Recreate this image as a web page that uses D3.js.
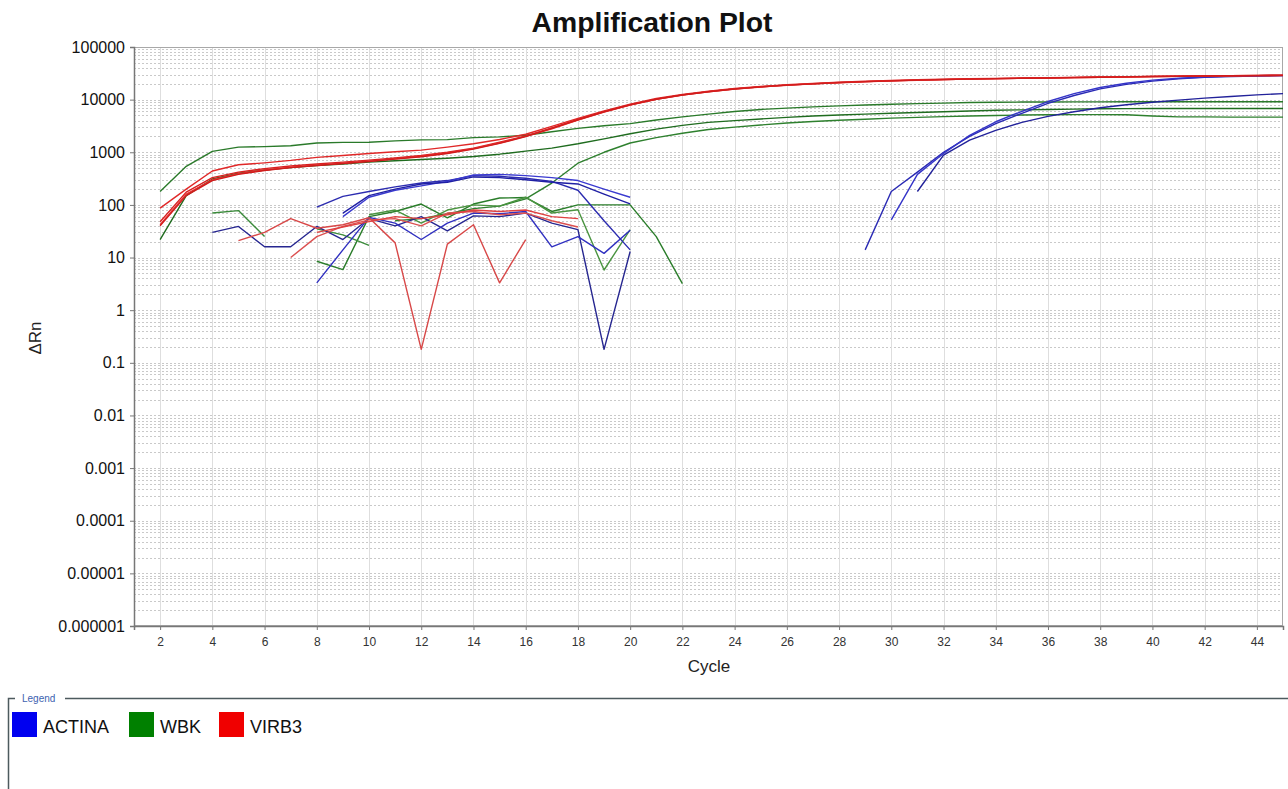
<!DOCTYPE html>
<html>
<head>
<meta charset="utf-8">
<script src="https://cdn.jsdelivr.net/npm/d3@7"></script>
<style>
    body { margin: 0; background: #fff; }
    svg { display: block; font-family: "Liberation Sans", Arial, sans-serif; }
</style>
</head>
<body>
<svg id="chart" width="1288" height="789"></svg>
<script>
// cycle ticks and decade labels
const cycleTicks = [2, 4, 6, 8, 10, 12, 14, 16, 18, 20, 22, 24, 26, 28, 30, 32, 34, 36, 38, 40, 42, 44];
const decadeTicks = [1e5, 1e4, 1e3, 100, 10, 1, 0.1, 0.01, 0.001, 0.0001, 0.00001, 0.000001];
const decadeLabels = ["100000", "10000", "1000", "100", "10", "1", "0.1", "0.01", "0.001", "0.0001", "0.00001", "0.000001"];

const targets = ["ACTINA", "WBK", "VIRB3"];
const targetColors = ["#0000f0", "#008000", "#f00000"];

// ACTINA wells: first cycle and delta Rn per cycle
const actinaStart = [29, 30, 31, 4, 8, 8, 9, 9];
const actinaValues = [
    [14, 180, 420, 1000, 2000, 3500, 5500, 8500, 12000, 16000, 19500, 22500, 25000, 26500, 27500, 28200, 28600],
    [52, 380, 950, 2100, 3800, 6000, 9200, 13000, 17000, 20500, 23500, 25500, 27000, 28000, 28500, 28800],
    [180, 880, 1700, 2600, 3700, 4800, 5900, 7000, 8000, 8900, 9800, 10700, 11500, 12300, 13000],
    [30, 39, 16, 16, 39, 22, 55, 40, 60, 32, 62, 60, 70, 45, 34, 0.18, 13],
    [3.3, 14, 58, 45, 22, 45, 70, 68, 75, 16, 25, 12, 33],
    [91, 145, 180, 220, 260, 290, 360, 350, 320, 280, 190, 50, 14],
    [60, 140, 190, 230, 280, 370, 380, 360, 330, 290, 200, 140],
    [70, 150, 200, 250, 270, 340, 330, 300, 270, 250, 160, 105]
];

// WBK wells
const wbkStart = [2, 2, 11, 4, 8, 8, 10];
const wbkValues = [
    [180, 540, 1040, 1250, 1280, 1330, 1500, 1540, 1550, 1650, 1720, 1740, 1900, 1960, 2100, 2450, 2850, 3200, 3500, 4100, 4700, 5300, 5950, 6500, 6900, 7300, 7600, 7900, 8150, 8400, 8600, 8800, 8900, 9000, 9000, 9050, 9050, 9100, 9100, 9100, 9100, 9100, 9100, 9100],
    [22, 150, 310, 400, 460, 510, 560, 600, 650, 690, 730, 770, 830, 920, 1050, 1200, 1450, 1800, 2250, 2750, 3250, 3700, 4000, 4300, 4600, 4900, 5100, 5300, 5500, 5700, 5900, 6100, 6300, 6400, 6500, 6600, 6700, 6750, 6800, 6800, 6800, 6800, 6800, 6800],
    [50, 55, 68, 85, 95, 130, 260, 620, 1000, 1500, 1900, 2300, 2700, 3000, 3300, 3600, 3850, 4050, 4250, 4450, 4600, 4750, 4900, 5000, 5100, 5150, 5200, 5200, 5150, 4900, 4700, 4700, 4650, 4650, 4650],
    [70, 78, 25],
    [8.5, 5.9, 60, 75, 104, 57, 104, 135, 138, 75, 100, 100, 100, 25, 3.2],
    [35, 27, 17],
    [65, 80, 45, 80, 100, 95, 140, 70, 81, 5.8, 34]
];

// VIRB3 wells
const virb3Start = [2, 2, 2, 2, 5, 7, 8];
const virb3Values = [
    [87, 200, 440, 580, 630, 700, 800, 870, 950, 1020, 1100, 1250, 1450, 1750, 2200, 3100, 4400, 6100, 8200, 10500, 12600, 14500, 16300, 17800, 19200, 20300, 21400, 22300, 23100, 23800, 24400, 24900, 25300, 25700, 26100, 26500, 26900, 27300, 27700, 28000, 28300, 28600, 28900, 29100],
    [48, 175, 330, 420, 490, 550, 600, 650, 710, 780, 870, 1000, 1200, 1550, 2050, 2900, 4200, 5900, 8000, 10200, 12300, 14200, 16000, 17500, 18900, 20000, 21100, 22000, 22800, 23500, 24100, 24600, 25100, 25500, 25900, 26300, 26700, 27100, 27500, 27800, 28100, 28400, 28700, 28900],
    [42, 160, 300, 390, 460, 520, 570, 620, 680, 750, 840, 970, 1170, 1500, 2000, 2800, 4100, 5800, 7900, 10100, 12200, 14100, 15900, 17400, 18800, 19900, 21000, 21900, 22700, 23400, 24000, 24500, 25000, 25400, 25800, 26200, 26600, 27000, 27400, 27700, 28000, 28300, 28600, 28800],
    [40, 150, 290, 380, 450, 510, 560, 610, 670, 740, 820, 950, 1150, 1480, 1980, 2850, 4150, 5850, 7950, 10150, 12250, 14150, 15950, 17450, 18850, 19950, 21050, 21950, 22750, 23450, 24050, 24550, 25050, 25450, 25850, 26250, 26650, 27050, 27450, 27750, 28050, 28350, 28650, 28850],
    [21, 30, 55, 36, 42, 57, 19, 0.18, 18, 42, 3.3, 22],
    [10, 25, 39, 52, 55, 40, 70, 75, 65, 70, 50, 38],
    [30, 38, 48, 60, 55, 65, 80, 75, 80, 60, 55]
];

const blueShades = ["#2a2ab4", "#3434c8", "#22229a", "#262690", "#3030c0", "#2c2cb0", "#3a3ad0", "#2020a4"];
const greenShades = ["#2a7a2a", "#1f6c1f", "#2e802e", "#3a8a3a", "#2a7d2a", "#3c8c3c", "#4a9440"];
const redShades = ["#e02828", "#d82020", "#e83030", "#d01c1c", "#d84848", "#dc5050", "#e04040"];

var svg = d3.select("#chart");
var margin = { left: 134, top: 47, right: 1283, bottom: 626 };

var x = d3.scaleLinear().domain([1, 45]).range([margin.left, margin.right]);
var y = d3.scaleLog().domain([0.000001, 100000]).range([margin.bottom, margin.top]);

svg.append("defs").append("clipPath").attr("id", "plot-clip")
    .append("rect")
    .attr("x", margin.left).attr("y", margin.top)
    .attr("width", margin.right - margin.left)
    .attr("height", margin.bottom - margin.top);

// title
svg.append("text")
    .attr("x", 652).attr("y", 32)
    .attr("text-anchor", "middle")
    .attr("font-size", 27).attr("font-weight", "bold")
    .attr("textLength", 241).attr("lengthAdjust", "spacingAndGlyphs")
    .attr("fill", "#111")
    .text("Amplification Plot");

// grid
var grid = svg.append("g");
var minors = [];
decadeTicks.forEach((d) => {
    if (d >= 100000) return;
    for (var k = 1; k <= 9; k++) minors.push(d * k);
});
grid.selectAll(".hgrid")
    .data(minors)
    .enter().append("line")
    .attr("class", "hgrid")
    .attr("x1", margin.left).attr("x2", margin.right)
    .attr("y1", (d) => Math.round(y(d)) + 0.5)
    .attr("y2", (d) => Math.round(y(d)) + 0.5)
    .attr("stroke", "#c9c9c9")
    .attr("stroke-dasharray", "2,2");

grid.selectAll(".vgrid")
    .data(cycleTicks)
    .enter().append("line")
    .attr("class", "vgrid")
    .attr("x1", (d) => Math.round(x(d)) + 0.5)
    .attr("x2", (d) => Math.round(x(d)) + 0.5)
    .attr("y1", margin.top).attr("y2", margin.bottom)
    .attr("stroke", "#dedede");

// plot frame
svg.append("rect")
    .attr("x", margin.left + 0.5).attr("y", margin.top + 0.5)
    .attr("width", margin.right - margin.left - 1)
    .attr("height", margin.bottom - margin.top - 1)
    .attr("fill", "none")
    .attr("stroke", "#a8a8a8");

// wells
var lines = svg.append("g").attr("clip-path", "url(#plot-clip)");
var line = d3.line()
    .x((d) => x(d.cycle))
    .y((d) => y(d.value));

function drawTarget(starts, values, shades) {
    values.forEach((vals, i) => {
        var pts = vals.map((v, j) => ({ cycle: starts[i] + j, value: v }));
        lines.append("path")
            .datum(pts)
            .attr("fill", "none")
            .attr("stroke", shades[i % shades.length])
            .attr("stroke-width", 1.4)
            .attr("stroke-linejoin", "round")
            .attr("d", line);
    });
}
drawTarget(wbkStart, wbkValues, greenShades);
drawTarget(actinaStart, actinaValues, blueShades);
drawTarget(virb3Start, virb3Values, redShades);

// axes
var xAxis = svg.append("g")
    .attr("transform", "translate(0," + margin.bottom + ")")
    .call(d3.axisBottom(x).tickValues(cycleTicks).tickSize(4).tickPadding(7));
xAxis.select(".domain").attr("stroke", "#777").attr("stroke-width", 1.5);
xAxis.selectAll(".tick line").attr("stroke", "#777");
xAxis.selectAll(".tick text").attr("font-size", 12).attr("fill", "#333")
    .attr("font-family", "'Liberation Sans', Arial, sans-serif");

var yAxis = svg.append("g")
    .attr("transform", "translate(" + margin.left + ",0)")
    .call(d3.axisLeft(y).tickValues(decadeTicks)
        .tickFormat((d, i) => decadeLabels[i]).tickSize(4).tickPadding(5));
yAxis.select(".domain").attr("stroke", "#777").attr("stroke-width", 1.5);
yAxis.selectAll(".tick line").attr("stroke", "#777");
yAxis.selectAll(".tick text").attr("font-size", 16).attr("fill", "#111")
    .attr("font-family", "'Liberation Sans', Arial, sans-serif");

svg.append("text")
    .attr("x", 709).attr("y", 672)
    .attr("text-anchor", "middle")
    .attr("font-size", 17).attr("fill", "#222")
    .text("Cycle");

svg.append("text")
    .attr("transform", "translate(41,338) rotate(-90)")
    .attr("text-anchor", "middle")
    .attr("font-size", 17).attr("fill", "#222")
    .text("ΔRn");

// legend box
var legend = svg.append("g");
legend.append("path")
    .attr("d", "M15,698.5 H8.5 V789 M65,698.5 H1290")
    .attr("fill", "none")
    .attr("stroke", "#4d5a5e")
    .attr("stroke-width", 1.5);
legend.append("text")
    .attr("x", 22).attr("y", 702)
    .attr("font-size", 10).attr("fill", "#3d62b0")
    .text("Legend");

var legendX = [12, 129, 219];
var items = legend.selectAll(".item")
    .data(targets)
    .enter().append("g")
    .attr("class", "item")
    .attr("transform", (d, i) => "translate(" + legendX[i] + ",712)");
items.append("rect")
    .attr("width", 25).attr("height", 25)
    .attr("fill", (d, i) => targetColors[i]);
items.append("text")
    .attr("x", 31).attr("y", 21)
    .attr("font-size", 18).attr("fill", "#111")
    .text((d) => d);
</script>
</body>
</html>
